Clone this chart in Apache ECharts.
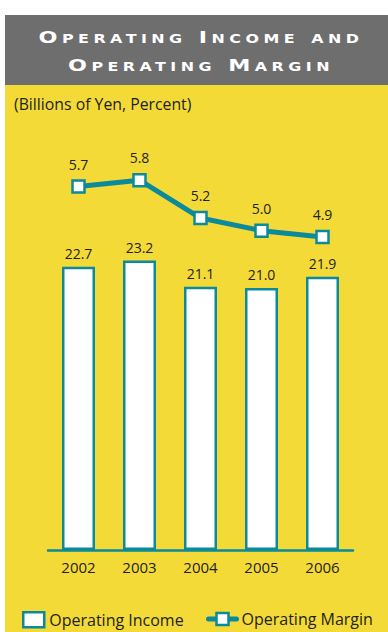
<!DOCTYPE html>
<html>
<head>
<meta charset="utf-8">
<script src="https://cdn.jsdelivr.net/npm/echarts@6/dist/echarts.min.js"></script>
<style>
  html, body { margin: 0; padding: 0; background: #fff; }
  #chart { width: 388px; height: 632px; }
  /* banner heading: small caps with wide tracking */
  #chart svg text[style*="Verdana"] {
    font-variant: small-caps !important;
    letter-spacing: 3.3px !important;
  }
</style>
</head>
<body>
<div id="chart"></div>
<script>
// Fiscal years and the two measures plotted against them
const years = ['2002', '2003', '2004', '2005', '2006'];
const operatingIncome = [22.7, 23.2, 21.1, 21.0, 21.9];   // billions of yen
const operatingMargin = [5.7, 5.8, 5.2, 5.0, 4.9];        // percent
const headingLines = ['Operating Income and', 'Operating Margin'];
const unitNote = '(Billions of Yen, Percent)';
const seriesNames = ['Operating Income', 'Operating Margin'];

const TEAL = '#0a8a9b';
const YELLOW = '#f3da37';
const GREY = '#6e6e6e';
const INK = '#231f20';
const HEAD_FONT = 'DejaVu Sans, Verdana';
const VALUE_FONT = 'Liberation Sans Narrow, Open Sans';

const chart = echarts.init(document.getElementById('chart'), null, { renderer: 'svg' });

const oneDecimal = p => Number(p.value).toFixed(1);

// wide banner lettering: horizontally stretched heading text
const heading = (text, y) => ({
  type: 'text', z: 1, x: 201, y: y, scaleX: 1.35,
  style: {
    text: text, fill: '#fff', fontSize: 16.5, fontWeight: 'bold', fontFamily: HEAD_FONT,
    textAlign: 'center', textVerticalAlign: 'middle'
  }
});

chart.setOption({
  animation: false,
  textStyle: { fontFamily: 'Open Sans' },
  graphic: [
    { type: 'rect', z: 0, silent: true, shape: { x: 5, y: 15, width: 383, height: 70 }, style: { fill: GREY } },
    { type: 'rect', z: 0, silent: true, shape: { x: 5, y: 85, width: 383, height: 547 }, style: { fill: YELLOW } },
    heading(headingLines[0], 38),
    heading(headingLines[1], 66),
    { type: 'text', z: 1, x: 14, y: 104, style: { text: unitNote, fill: INK, fontSize: 15.8, fontFamily: 'Open Sans', textAlign: 'left', textVerticalAlign: 'middle' } }
  ],
  grid: { left: 48, right: 35, top: 160, bottom: 82 },
  xAxis: {
    type: 'category',
    data: years,
    axisLine: { lineStyle: { color: TEAL, width: 2.5 } },
    axisTick: { show: false },
    axisLabel: { color: INK, fontSize: 15, margin: 9 }
  },
  yAxis: [
    { type: 'value', min: 0, max: 31.25, show: false },
    { type: 'value', min: -0.06, max: 6.12, show: false }
  ],
  legend: [
    {
      data: [seriesNames[0]], left: 22, top: 611, padding: 0,
      icon: 'rect', itemWidth: 21, itemHeight: 15, itemGap: 5,
      itemStyle: { borderWidth: 2.5 },
      textStyle: { color: INK, fontSize: 16 }
    },
    {
      data: [seriesNames[1]], left: 206, top: 611, padding: 0,
      itemWidth: 28, itemHeight: 15,
      itemStyle: { borderWidth: 2.5 },
      lineStyle: { width: 5, cap: 'round' },
      textStyle: { color: INK, fontSize: 16 }
    }
  ],
  series: [
    {
      name: seriesNames[0],
      type: 'bar',
      data: operatingIncome,
      barWidth: 33,
      itemStyle: { color: '#fff', borderColor: TEAL, borderWidth: 2.5 },
      label: { show: true, position: 'top', distance: 6, color: INK, fontSize: 14, fontFamily: VALUE_FONT, formatter: oneDecimal }
    },
    {
      name: seriesNames[1],
      type: 'line',
      yAxisIndex: 1,
      data: operatingMargin,
      symbol: 'rect',
      symbolSize: 12,
      lineStyle: { color: TEAL, width: 5 },
      itemStyle: { color: '#fff', borderColor: TEAL, borderWidth: 2.5 },
      label: { show: true, position: 'top', distance: 8, color: INK, fontSize: 14, fontFamily: VALUE_FONT, formatter: oneDecimal }
    }
  ]
});
</script>
</body>
</html>
